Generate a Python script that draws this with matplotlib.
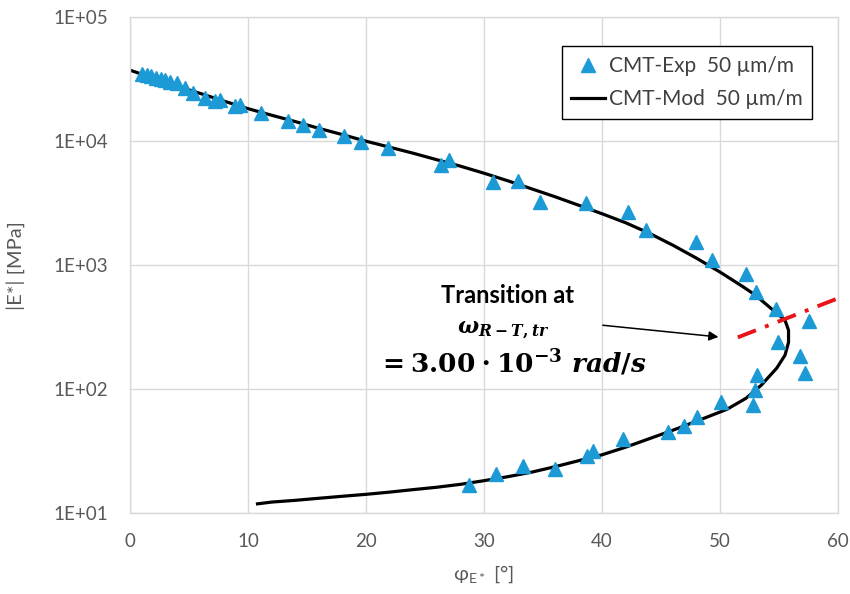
import numpy as np
import matplotlib
matplotlib.use("Agg")
from matplotlib import pyplot as plt

plt.rcParams['font.family'] = ['Lato', 'DejaVu Sans']
plt.rcParams['mathtext.fontset'] = 'custom'
plt.rcParams['mathtext.rm'] = 'DejaVu Serif:bold'
plt.rcParams['mathtext.bf'] = 'DejaVu Serif:bold'
plt.rcParams['mathtext.it'] = 'DejaVu Serif:italic:bold'

# measured points (phase angle [deg], |E*| [MPa])
exp_phi = [1.0, 1.4, 1.8, 2.2, 2.6, 3.0, 3.4, 3.96, 4.66, 5.36, 6.36, 7.2, 7.63,
           8.9, 9.32, 11.08, 13.42, 14.64, 16.04, 18.16, 19.55, 21.89, 26.33,
           27.06, 30.74, 32.85, 34.75, 38.64, 42.18, 43.7, 47.94, 49.3, 52.2,
           53.03, 54.75, 57.57, 54.94, 56.78, 57.2, 53.11, 52.97, 50.06, 52.82,
           48.03, 46.97, 45.57, 41.75, 39.26, 38.7, 36.02, 33.33, 31.02, 28.75]
exp_E = [35000, 34200, 33400, 32600, 31800, 31000, 30300, 29700, 27100, 24700,
         22400, 21000, 21400, 19300, 19500, 17000, 14500, 13600, 12400, 11000,
         9770, 8750, 6490, 7030, 4700, 4780, 3240, 3180, 2690, 1940, 1540, 1110,
         857, 610, 440, 356, 241, 185, 135, 131, 98, 79, 74,
         59.2, 50.4, 45.3, 39.5, 31.8, 28.8, 22.9, 23.9, 20.9, 16.8]

# model curve
mod_phi = [0, 2, 4, 6, 8, 10, 12, 14, 16, 18, 20, 22, 24, 26, 28, 30, 32, 34,
           36, 38, 40, 42, 44, 46, 48, 50, 52, 53, 54.2, 55.0, 55.5, 55.8,
           55.8, 55.5, 54.8, 53.5, 52.2, 50.6, 48, 46, 44, 42, 40, 38, 36, 34,
           32, 30, 28, 26, 24, 22, 20, 18, 16, 14, 12, 10.8]
mod_E = [37400, 32200, 27800, 24200, 21000, 18300, 16200, 14400, 12700, 11300,
         10000, 8950, 8000, 7090, 6290, 5520, 4800, 4140, 3570, 3050, 2600,
         2200, 1810, 1450, 1140, 880, 665, 573, 458, 395, 360, 299,
         239, 188, 148, 108, 84.6, 69.0, 55.2, 46.7, 39.9, 34.1, 29.6, 26.5,
         23.7, 21.4, 19.7, 18.3, 17.1, 16.2, 15.5, 14.8, 14.2, 13.7, 13.2,
         12.7, 12.3, 11.9]

# transition line and arrow
tr_phi = [51.5, 60.5]
tr_E = [262, 565]
arrow_from = (40.06, 328)
arrow_to = (49.86, 264)

yticks = [1e1, 1e2, 1e3, 1e4, 1e5]
ytick_labels = ['1E+01', '1E+02', '1E+03', '1E+04', '1E+05']

grey = '#595959'

fig = plt.figure(figsize=(8.5, 5.94), dpi=100)
ax = fig.add_axes([0.153, 0.136, 0.833, 0.835])

ax.plot(exp_phi, exp_E, linestyle='none', marker='^', markersize=10,
        color='#1b9ad6', label='CMT-Exp  50 µm/m', zorder=3)
ax.plot(mod_phi, mod_E, color='black', lw=2.3, label='CMT-Mod  50 µm/m', zorder=2)
ax.plot(tr_phi, tr_E, color='#e8141b', lw=2.8, dashes=(5, 2.5, 1, 2.5), zorder=4)

ax.annotate('', xy=arrow_to, xytext=arrow_from,
            arrowprops=dict(arrowstyle='-|>', color='black', lw=1.1,
                            mutation_scale=14, shrinkA=0, shrinkB=0))

ax.text(32.0, 565, 'Transition at', ha='center', va='center',
        fontsize=17, fontweight='bold', color='black')
ax.text(31.6, 300, r'$\omega_{R-T,tr}$', ha='center', va='center',
        fontsize=16, math_fontfamily='custom')
ax.text(32.4, 163, r'$=3.00\cdot10^{-3}\ rad/s$', ha='center', va='center',
        fontsize=19, math_fontfamily='custom')

ax.set_yscale('log')
ax.set_xlim(0, 60)
ax.set_ylim(1e1, 1e5)
ax.set_xticks(range(0, 61, 10))
ax.set_yticks(yticks)
ax.set_yticklabels(ytick_labels)
ax.yaxis.set_minor_locator(matplotlib.ticker.NullLocator())
ax.tick_params(length=0, labelsize=13.5, colors=grey)
ax.tick_params(axis='x', pad=14)
ax.tick_params(axis='y', pad=16)

ax.grid(True, color='#d9d9d9', lw=1)
ax.set_axisbelow(True)
for s in ax.spines.values():
    s.set_color('#d9d9d9')
    s.set_linewidth(1)

ax.set_xlabel(r'φ$_{\mathregular{E*}}$ [°]', fontsize=14.5, color=grey, labelpad=10,
              math_fontfamily='dejavusans')
ax.set_ylabel('|E*| [MPa]', fontsize=14.5, color=grey, labelpad=20)

leg = ax.legend(loc='upper right', bbox_to_anchor=(0.963, 0.941), fontsize=15,
                frameon=True, fancybox=False, framealpha=1, edgecolor='black',
                handlelength=1.6, handletextpad=0.2, borderpad=0.45,
                labelspacing=0.65, borderaxespad=0, labelcolor='#404040')
leg.get_frame().set_linewidth(1.0)

fig.savefig('out.png', dpi=100)
